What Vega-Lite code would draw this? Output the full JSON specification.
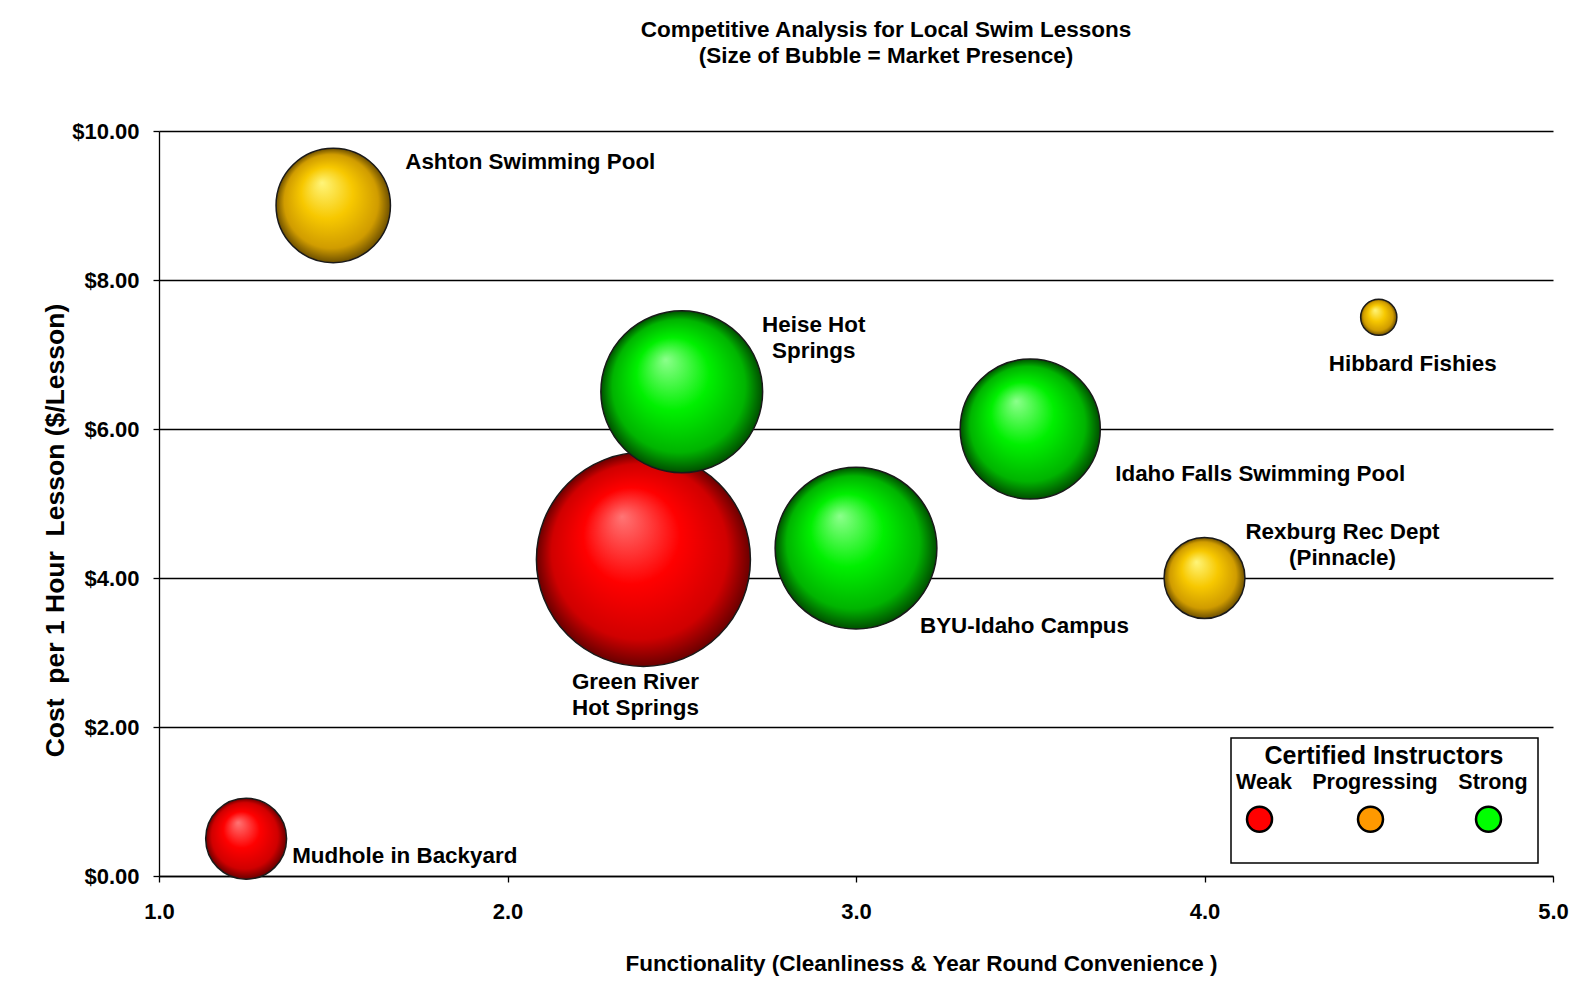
{
  "$schema": "https://vega.github.io/schema/vega-lite/v6.json",
  "width": 1394,
  "height": 745,
  "autosize": {"type": "none"},
  "padding": {"left": 159, "top": 131, "right": 29, "bottom": 132},
  "background": "white",
  "title": {
    "text": ["Competitive Analysis  for Local Swim Lessons", "(Size of Bubble = Market Presence)"],
    "font": "Liberation Sans",
    "fontSize": 22.5,
    "fontWeight": "bold",
    "color": "black",
    "anchor": "middle",
    "frame": "group",
    "baseline": "bottom",
    "lineHeight": 26,
    "offset": 30,
    "dx": 30
  },
  "data": {
    "values": [
      {"name": "Green River Hot Springs", "label": "Green River\nHot Springs", "functionality": 2.39, "cost": 4.25, "presence": 35, "instructors": "Weak"},
      {"name": "Heise Hot Springs", "label": "Heise Hot\nSprings", "functionality": 2.5, "cost": 6.5, "presence": 20, "instructors": "Strong"},
      {"name": "BYU-Idaho Campus", "label": "BYU-Idaho Campus", "functionality": 3.0, "cost": 4.4, "presence": 20, "instructors": "Strong"},
      {"name": "Idaho Falls Swimming Pool", "label": "Idaho Falls Swimming Pool", "functionality": 3.5, "cost": 6.0, "presence": 15, "instructors": "Strong"},
      {"name": "Ashton Swimming Pool", "label": "Ashton Swimming Pool", "functionality": 1.5, "cost": 9.0, "presence": 10, "instructors": "Progressing"},
      {"name": "Rexburg Rec Dept (Pinnacle)", "label": "Rexburg Rec Dept\n(Pinnacle)", "functionality": 4.0, "cost": 4.0, "presence": 5, "instructors": "Progressing"},
      {"name": "Mudhole in Backyard", "label": "Mudhole in Backyard", "functionality": 1.25, "cost": 0.5, "presence": 5, "instructors": "Weak"},
      {"name": "Hibbard Fishies", "label": "Hibbard Fishies", "functionality": 4.5, "cost": 7.5, "presence": 1, "instructors": "Progressing"}
    ]
  },
  "config": {
    "view": {"stroke": null},
    "font": "Liberation Sans",
    "axis": {
      "domainColor": "black",
      "domainWidth": 1.3,
      "tickColor": "black",
      "tickWidth": 1.3,
      "tickSize": 6,
      "gridColor": "black",
      "gridWidth": 1.3,
      "gridOpacity": 1,
      "labelColor": "black",
      "labelFont": "Liberation Sans",
      "labelFontWeight": "bold",
      "labelFontSize": 22,
      "labelFlush": false,
      "labelOverlap": false,
      "titleColor": "black",
      "titleFont": "Liberation Sans",
      "titleFontWeight": "bold"
    }
  },
  "encoding": {
    "x": {
      "field": "functionality",
      "type": "quantitative",
      "scale": {"domain": [1, 5], "nice": false, "zero": false},
      "axis": {
        "values": [1, 2, 3, 4, 5],
        "format": ".1f",
        "grid": false,
        "labelPadding": 19,
        "title": "Functionality (Cleanliness & Year Round Convenience )",
        "titleFontSize": 22.5,
        "titleX": 762,
        "titleY": 87,
        "titleAlign": "center",
        "titleBaseline": "middle",
        "titleAnchor": null
      }
    },
    "y": {
      "field": "cost",
      "type": "quantitative",
      "scale": {"domain": [0, 10], "nice": false, "zero": true},
      "axis": {
        "values": [0, 2, 4, 6, 8, 10],
        "format": "$.2f",
        "grid": true,
        "labelPadding": 14,
        "title": "Cost\u00a0 per 1 Hour\u00a0 Lesson ($/Lesson)",
        "titleFontSize": 26.5,
        "titleAngle": -90,
        "titleX": -104,
        "titleY": 399,
        "titleAlign": "center",
        "titleBaseline": "middle",
        "titleAnchor": null
      }
    }
  },
  "layer": [
    {
      "mark": {"type": "point", "shape": "circle", "filled": true, "opacity": 1},
      "encoding": {
        "size": {"field": "presence", "type": "quantitative", "scale": {"domain": [0, 35], "range": [0, 45800]}, "legend": null},
        "order": {"field": "presence", "sort": "descending"},
        "color": {
          "field": "instructors",
          "type": "nominal",
          "scale": {"domain": ["Weak", "Progressing", "Strong"], "range": ["#FF0000", "#FF9900", "#00FF00"]},
          "legend": {
            "orient": "none",
            "legendX": 1072,
            "legendY": 607,
            "direction": "horizontal",
            "title": "Certified Instructors",
            "titleFont": "Liberation Sans",
            "titleFontSize": 25,
            "titleFontWeight": "bold",
            "titleColor": "black",
            "titleAnchor": "middle",
            "titleLimit": 500,
            "titlePadding": 32,
            "labelFont": "Liberation Sans",
            "labelFontSize": 21.5,
            "labelFontWeight": "bold",
            "labelColor": "black",
            "labelAlign": "center",
            "labelBaseline": "middle",
            "labelOffset": -9.5,
            "labelLimit": 300,
            "labelExpr": "[datum.label, ' ', ' ']",
            "symbolType": "circle",
            "symbolSize": 625,
            "symbolOffset": 4.5,
            "symbolStrokeColor": "black",
            "symbolStrokeWidth": 2.5,
            "symbolOpacity": 1,
            "columnPadding": 20,
            "padding": 10,
            "fillColor": "white",
            "strokeColor": "black",
            "encode": {
              "title": {"update": {"dy": {"value": -4}}},
              "labels": {"update": {"dy": {"value": -36}, "lineHeight": {"value": 29.5}}},
              "symbols": {"update": {"stroke": {"value": "black"}, "strokeWidth": {"value": 2.5}}},
              "legend": {"update": {"strokeWidth": {"value": 1.5}}}
            }
          }
        }
      }
    },
    {
      "mark": {"type": "point", "shape": "circle", "filled": true, "opacity": 1, "stroke": "#1a1a1a", "strokeWidth": 1.5},
      "encoding": {
        "size": {"field": "presence", "type": "quantitative", "scale": {"domain": [0, 35], "range": [0, 45800]}, "legend": null},
        "order": {"field": "presence", "sort": "descending"},
        "fill": {
          "condition": [
            {"test": "datum.instructors === 'Weak'", "value": {"gradient": "radial", "x1": 0.4, "y1": 0.3, "r1": 0, "x2": 0.5, "y2": 0.5, "r2": 0.5, "stops": [{"offset": 0, "color": "#FF7575"}, {"offset": 0.45, "color": "#FF0000"}, {"offset": 0.82, "color": "#D00000"}, {"offset": 1, "color": "#6A0000"}]}},
            {"test": "datum.instructors === 'Strong'", "value": {"gradient": "radial", "x1": 0.4, "y1": 0.3, "r1": 0, "x2": 0.5, "y2": 0.5, "r2": 0.5, "stops": [{"offset": 0, "color": "#8CFF8C"}, {"offset": 0.45, "color": "#00F000"}, {"offset": 0.82, "color": "#00B400"}, {"offset": 1, "color": "#004F00"}]}}
          ],
          "value": {"gradient": "radial", "x1": 0.4, "y1": 0.3, "r1": 0, "x2": 0.5, "y2": 0.5, "r2": 0.5, "stops": [{"offset": 0, "color": "#FFF57A"}, {"offset": 0.45, "color": "#F7C800"}, {"offset": 0.82, "color": "#D09C00"}, {"offset": 1, "color": "#6E5000"}]}
        }
      }
    },
    {
      "transform": [{"filter": "datum.name === 'Ashton Swimming Pool'"}],
      "mark": {"type": "text", "align": "left", "baseline": "middle", "dx": 72, "dy": -44, "font": "Liberation Sans", "fontSize": 22.4, "fontWeight": "bold", "color": "black", "lineBreak": "\n", "lineHeight": 26},
      "encoding": {"text": {"field": "label"}}
    },
    {
      "transform": [{"filter": "datum.name === 'Heise Hot Springs'"}],
      "mark": {"type": "text", "align": "center", "baseline": "middle", "dx": 132, "dy": -67, "font": "Liberation Sans", "fontSize": 22.4, "fontWeight": "bold", "color": "black", "lineBreak": "\n", "lineHeight": 26},
      "encoding": {"text": {"field": "label"}}
    },
    {
      "transform": [{"filter": "datum.name === 'Hibbard Fishies'"}],
      "mark": {"type": "text", "align": "center", "baseline": "middle", "dx": 34, "dy": 47, "font": "Liberation Sans", "fontSize": 22.4, "fontWeight": "bold", "color": "black", "lineBreak": "\n", "lineHeight": 26},
      "encoding": {"text": {"field": "label"}}
    },
    {
      "transform": [{"filter": "datum.name === 'Idaho Falls Swimming Pool'"}],
      "mark": {"type": "text", "align": "left", "baseline": "middle", "dx": 85, "dy": 45, "font": "Liberation Sans", "fontSize": 22.4, "fontWeight": "bold", "color": "black", "lineBreak": "\n", "lineHeight": 26},
      "encoding": {"text": {"field": "label"}}
    },
    {
      "transform": [{"filter": "datum.name === 'Rexburg Rec Dept (Pinnacle)'"}],
      "mark": {"type": "text", "align": "center", "baseline": "middle", "dx": 138, "dy": -46, "font": "Liberation Sans", "fontSize": 22.4, "fontWeight": "bold", "color": "black", "lineBreak": "\n", "lineHeight": 26},
      "encoding": {"text": {"field": "label"}}
    },
    {
      "transform": [{"filter": "datum.name === 'BYU-Idaho Campus'"}],
      "mark": {"type": "text", "align": "left", "baseline": "middle", "dx": 64, "dy": 78, "font": "Liberation Sans", "fontSize": 22.4, "fontWeight": "bold", "color": "black", "lineBreak": "\n", "lineHeight": 26},
      "encoding": {"text": {"field": "label"}}
    },
    {
      "transform": [{"filter": "datum.name === 'Green River Hot Springs'"}],
      "mark": {"type": "text", "align": "center", "baseline": "middle", "dx": -8, "dy": 123, "font": "Liberation Sans", "fontSize": 22.4, "fontWeight": "bold", "color": "black", "lineBreak": "\n", "lineHeight": 26},
      "encoding": {"text": {"field": "label"}}
    },
    {
      "transform": [{"filter": "datum.name === 'Mudhole in Backyard'"}],
      "mark": {"type": "text", "align": "left", "baseline": "middle", "dx": 46, "dy": 17, "font": "Liberation Sans", "fontSize": 22.4, "fontWeight": "bold", "color": "black", "lineBreak": "\n", "lineHeight": 26},
      "encoding": {"text": {"field": "label"}}
    }
  ]
}
